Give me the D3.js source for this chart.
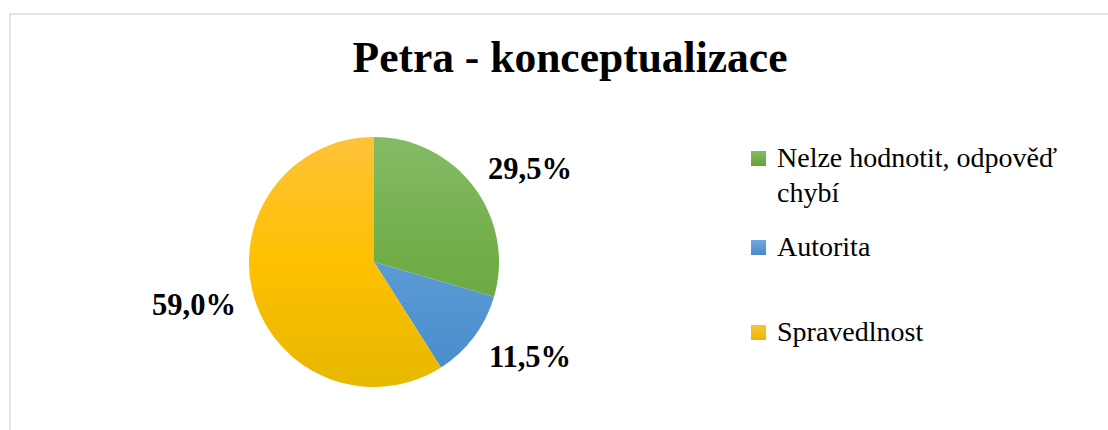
<!DOCTYPE html>
<html><head><meta charset="utf-8">
<script src="https://cdn.jsdelivr.net/npm/d3@7"></script>
</head><body style="margin:0;background:#fff">
<svg id="c" width="1108" height="430" style="display:block"></svg>
<script>
const categories = ["Nelze hodnotit, odpověď chybí", "Autorita", "Spravedlnost"];
const legendLines = [["Nelze hodnotit, odpověď", "chybí"], ["Autorita"], ["Spravedlnost"]];
const values = [29.5, 11.5, 59.0];
const labels = ["29,5%", "11,5%", "59,0%"];
const colorsTop = ["#84bb66", "#6fa8de", "#fdc23a"];
const colorsMid = ["#70ad47", "#5b9bd5", "#ffc000"];
const colorsBot = ["#62a435", "#478bca", "#e6b800"];
const title = "Petra - konceptualizace";

const svg = d3.select("#c");
const font = `"Liberation Serif", "Times New Roman", serif`;

svg.append("rect").attr("x",10).attr("y",14).attr("width",1200).attr("height",500)
  .attr("fill","none").attr("stroke","#e4e4e4").attr("stroke-width",2);

svg.append("text").attr("x",570).attr("y",71.5).attr("text-anchor","middle")
  .style("font-family",font).style("font-weight","bold").style("font-size","43.5px")
  .attr("fill","#000").text(title);

const cx = 374, cy = 262, r = 125;
const defs = svg.append("defs");
categories.forEach((c,i)=>{
  const g = defs.append("linearGradient").attr("id","g"+i)
    .attr("gradientUnits","userSpaceOnUse").attr("x1",0).attr("y1",-r).attr("x2",0).attr("y2",r);
  g.append("stop").attr("offset","0%").attr("stop-color",colorsTop[i]);
  g.append("stop").attr("offset","50%").attr("stop-color",colorsMid[i]);
  g.append("stop").attr("offset","100%").attr("stop-color",colorsBot[i]);
});

const pie = d3.pie().sort(null).value(d=>d)(values);
const arc = d3.arc().innerRadius(0).outerRadius(r);
const gp = svg.append("g").attr("transform",`translate(${cx},${cy})`);
gp.selectAll("path").data(pie).join("path")
  .attr("d",arc).attr("fill",(d,i)=>`url(#g${i})`);

const lblPos = [[530,179],[530,367],[194,315]];
gp.selectAll("text.lbl").data(pie).join("text").attr("class","lbl")
  .attr("x",(d,i)=>lblPos[i][0]-cx).attr("y",(d,i)=>lblPos[i][1]-cy)
  .attr("text-anchor","middle").style("font-family",font).style("font-weight","bold")
  .style("font-size","30.5px").attr("fill","#000").text((d,i)=>labels[i]);

const legY = [151, 240, 325];
const lg = svg.append("g");
categories.forEach((c,i)=>{
  const gi = lg.append("g");
  const lgGrad = defs.append("linearGradient").attr("id","lg"+i).attr("x1",0).attr("y1",0).attr("x2",0).attr("y2",1);
  lgGrad.append("stop").attr("offset","0%").attr("stop-color",colorsTop[i]);
  lgGrad.append("stop").attr("offset","100%").attr("stop-color",colorsBot[i]);
  gi.append("rect").attr("x",751).attr("y",legY[i]).attr("width",15).attr("height",15)
    .attr("fill",`url(#lg${i})`);
  legendLines[i].forEach((t,j)=>{
    gi.append("text").attr("x",777).attr("y",legY[i]+16+j*35)
      .style("font-family",font).style("font-size","28px").attr("fill","#000").text(t);
  });
});
</script>
</body></html>
